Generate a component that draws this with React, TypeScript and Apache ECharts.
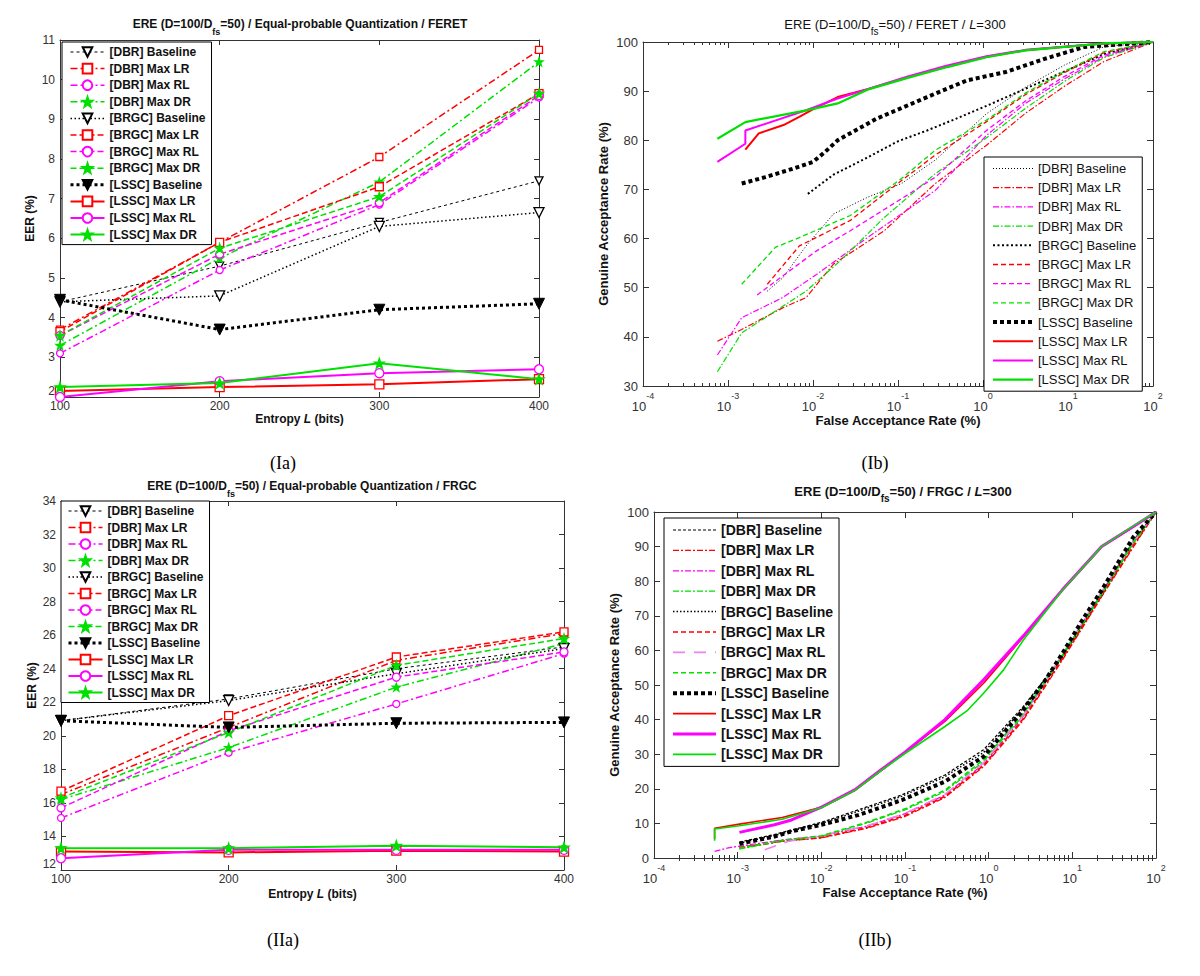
import React, { useEffect, useRef } from 'react';
import * as echarts from 'echarts';

// ---------- shared categories ----------
const ENTROPY = [100, 200, 300, 400];
const NAMES = [
  '[DBR] Baseline', '[DBR] Max LR', '[DBR] Max RL', '[DBR] Max DR',
  '[BRGC] Baseline', '[BRGC] Max LR', '[BRGC] Max RL', '[BRGC] Max DR',
  '[LSSC] Baseline', '[LSSC] Max LR', '[LSSC] Max RL', '[LSSC] Max DR',
];
const EER_Y_TICKS_IA = [2, 11, 1];
const EER_Y_TICKS_IIA = [12, 34, 2];
const ROC_Y_TICKS_IB = [30, 100, 10];
const ROC_Y_TICKS_IIB = [0, 100, 10];
const FAR_RANGE = [1e-4, 100];

// ---------- (Ia) EER, FERET ----------
const IA_DBR_BASE = [4.4, 5.3, 6.4, 7.45];
const IA_DBR_LR = [3.7, 5.9, 8.05, 10.75];
const IA_DBR_RL = [3.1, 5.2, 6.85, 9.55];
const IA_DBR_DR = [3.3, 5.5, 7.42, 10.45];
const IA_BRGC_BASE = [4.4, 4.55, 6.3, 6.65];
const IA_BRGC_LR = [3.65, 5.9, 7.3, 9.65];
const IA_BRGC_RL = [3.55, 5.6, 6.9, 9.6];
const IA_BRGC_DR = [3.55, 5.75, 7.05, 9.65];
const IA_LSSC_BASE = [4.45, 3.7, 4.2, 4.35];
const IA_LSSC_LR = [2.15, 2.25, 2.32, 2.45];
const IA_LSSC_RL = [2.0, 2.4, 2.6, 2.7];
const IA_LSSC_DR = [2.25, 2.35, 2.85, 2.45];

// ---------- (IIa) EER, FRGC ----------
const IIA_DBR_BASE = [20.9, 22.2, 24.0, 25.3];
const IIA_DBR_LR = [16.5, 20.5, 24.5, 26.1];
const IIA_DBR_RL = [15.1, 19.0, 21.9, 24.9];
const IIA_DBR_DR = [16.2, 19.3, 22.9, 25.5];
const IIA_BRGC_BASE = [20.9, 22.1, 23.7, 25.2];
const IIA_BRGC_LR = [16.7, 21.2, 24.7, 26.2];
const IIA_BRGC_RL = [15.7, 20.3, 23.5, 25.0];
const IIA_BRGC_DR = [16.3, 20.2, 24.2, 25.8];
const IIA_LSSC_BASE = [20.9, 20.5, 20.75, 20.8];
const IIA_LSSC_LR = [13.1, 13.05, 13.15, 13.1];
const IIA_LSSC_RL = [12.7, 13.2, 13.2, 13.2];
const IIA_LSSC_DR = [13.3, 13.3, 13.45, 13.35];

// ---------- (Ib) ROC, FERET, L=300  [FAR %, GAR %] ----------
const IB_DBR_BASE = [[2.9e-3, 49.3], [4.4e-3, 52], [8.3e-3, 58.5], [0.0174, 65], [0.0437, 68.4], [0.11, 71.2], [0.275, 76], [1.1, 85.4], [3.16, 90.8], [9.1, 95.3], [26.3, 99], [100, 100]];
const IB_DBR_LR = [[7.5e-4, 39.1], [1.45e-3, 41.5], [4.4e-3, 45.9], [8.3e-3, 48], [0.0174, 54.8], [0.069, 61.6], [0.275, 71.2], [1.1, 79.0], [3.16, 85.5], [9.1, 91.0], [26.3, 96.0], [100, 100]];
const IB_DBR_RL = [[7.5e-4, 36.3], [1.45e-3, 43.9], [4.4e-3, 48], [0.011, 52.7], [0.0437, 60.2], [0.275, 69.8], [1.1, 81.0], [3.16, 87.5], [9.1, 92.5], [26.3, 97], [100, 100]];
const IB_DBR_DR = [[7.5e-4, 32.9], [1.45e-3, 40.8], [2.75e-3, 43.9], [8.3e-3, 49.3], [0.021, 55.5], [0.069, 64.3], [0.275, 73.2], [1.1, 80.5], [3.16, 86.5], [9.1, 92.0], [26.3, 96.8], [100, 100]];
const IB_BRGC_BASE = [[8.7e-3, 69.1], [0.0174, 73.0], [0.0437, 76.5], [0.1, 79.8], [0.22, 82.0], [0.5, 84.5], [1.1, 87.0], [3.16, 90.5], [9.1, 94.0], [26.3, 97.5], [100, 100]];
const IB_BRGC_LR = [[2.9e-3, 50.7], [6.9e-3, 58.5], [0.01, 59.9], [0.0275, 63.7], [0.11, 71.8], [0.275, 77], [1.1, 83.8], [3.16, 89.3], [9.1, 93.8], [26.3, 97.8], [100, 100]];
const IB_BRGC_RL = [[2.2e-3, 48.5], [4.4e-3, 52.4], [0.011, 57.5], [0.0275, 61.6], [0.11, 68.1], [0.275, 72.5], [1.1, 82.0], [3.16, 88.0], [9.1, 93.0], [26.3, 97.3], [100, 100]];
const IB_BRGC_DR = [[1.45e-3, 50.7], [3.6e-3, 58.2], [6.9e-3, 60.2], [0.012, 62], [0.0275, 64.7], [0.11, 72.2], [0.275, 78], [1.1, 84.1], [3.16, 89.6], [9.1, 94.0], [26.3, 98], [100, 100]];
const IB_LSSC_BASE = [[1.45e-3, 71.2], [2.75e-3, 72.5], [5.75e-3, 74.2], [0.01, 75.6], [0.0138, 77.6], [0.0195, 80.0], [0.056, 84.4], [0.22, 88.8], [0.65, 92.2], [1.86, 93.9], [5.4, 96.6], [15.5, 99.0], [100, 100]];
const IB_LSSC_LR = [[1.6e-3, 78.1], [2.3e-3, 81.4], [4.5e-3, 83.1], [6.8e-3, 84.7], [0.0102, 86.4], [0.0195, 88.8], [0.0437, 90.4], [0.13, 92.8], [0.38, 95.0], [1.1, 97.0], [3.16, 98.3], [26.3, 99.7], [100, 100]];
const IB_LSSC_RL = [[7.5e-4, 75.6], [1.6e-3, 79.3], [1.6e-3, 82.0], [8.3e-3, 86.1], [0.0195, 88.5], [0.0437, 90.4], [0.13, 93.0], [0.38, 95.2], [1.1, 97.1], [3.16, 98.4], [26.3, 99.7], [100, 100]];
const IB_LSSC_DR = [[7.5e-4, 80.3], [1.6e-3, 83.7], [8.3e-3, 86.1], [0.0195, 87.5], [0.0437, 90.3], [0.13, 92.7], [0.38, 94.9], [1.1, 96.9], [3.16, 98.3], [26.3, 99.7], [100, 100]];

// ---------- (IIb) ROC, FRGC, L=300 ----------
const IIB_DBR_BASE = [[1.05e-3, 4.6], [2.75e-3, 6.8], [0.01, 10.3], [0.0275, 13.9], [0.091, 18.2], [0.3, 24.0], [0.87, 31.3], [2.6, 43.8], [7.6, 58.2], [22.4, 76.4], [53.7, 91.8], [100, 100]];
const IIB_DBR_LR = [[1.05e-3, 2.9], [3.6e-3, 4.9], [0.01, 5.8], [0.035, 8.6], [0.1, 12.0], [0.3, 17.5], [0.87, 26.4], [2.6, 39.9], [7.6, 57.2], [22.4, 75.5], [53.7, 89.9], [100, 100]];
const IIB_DBR_RL = [[5.3e-4, 1.9], [8e-4, 3.0], [1.05e-3, 3.4], [3.6e-3, 5.3], [0.01, 6.3], [0.035, 9.2], [0.1, 12.8], [0.3, 18.2], [0.87, 27.2], [2.6, 41.0], [7.6, 58.5], [22.4, 76.8], [53.7, 91.0], [100, 100]];
const IIB_DBR_DR = [[1.05e-3, 2.6], [3.6e-3, 5.0], [0.01, 6.2], [0.035, 10.1], [0.1, 13.9], [0.3, 19.2], [0.87, 27.9], [2.6, 41.3], [7.6, 58.2], [22.4, 76.0], [53.7, 90.9], [100, 100]];
const IIB_BRGC_BASE = [[1.05e-3, 4.3], [2.75e-3, 6.5], [0.01, 10.0], [0.0275, 13.5], [0.091, 17.8], [0.3, 23.5], [0.87, 30.5], [2.6, 43.3], [7.6, 58.0], [22.4, 76.0], [53.7, 91.5], [100, 100]];
const IIB_BRGC_LR = [[1.05e-3, 3.0], [3.6e-3, 5.0], [0.01, 5.9], [0.035, 8.8], [0.1, 12.3], [0.3, 17.8], [0.87, 26.8], [2.6, 40.3], [7.6, 57.6], [22.4, 75.8], [53.7, 90.3], [100, 100]];
const IIB_BRGC_RL = [[2.1e-3, 2.4], [4e-3, 4.8], [0.01, 6.5], [0.035, 9.3], [0.1, 12.9], [0.3, 18.4], [0.87, 27.5], [2.6, 41.3], [7.6, 58.8], [22.4, 77.0], [53.7, 91.3], [100, 100]];
const IIB_BRGC_DR = [[1.05e-3, 2.8], [3.6e-3, 5.2], [0.01, 6.4], [0.035, 10.3], [0.1, 14.2], [0.3, 19.6], [0.87, 28.4], [2.6, 41.8], [7.6, 58.6], [22.4, 76.3], [53.7, 91.2], [100, 100]];
const IIB_LSSC_BASE = [[1.05e-3, 4.1], [2.75e-3, 6.2], [4.4e-3, 7.7], [0.01, 9.6], [0.0275, 12.4], [0.091, 16.7], [0.3, 22.1], [0.87, 29.3], [2.6, 42.8], [4.5, 50.5], [7.6, 59.1], [13.2, 68.8], [22.4, 77.4], [53.7, 92.8], [100, 100]];
const IIB_LSSC_LR = [[5.3e-4, 5.5], [5.3e-4, 8.6], [1.05e-3, 9.8], [3.4e-3, 11.7], [0.0102, 14.7], [0.025, 19.5], [0.05, 25.0], [0.1, 30.5], [0.3, 39.5], [0.87, 50.5], [2.6, 63.9], [7.6, 77.4], [22.4, 89.9], [53.7, 95.7], [100, 100]];
const IIB_LSSC_RL = [[1.05e-3, 7.4], [2.75e-3, 9.6], [4.4e-3, 11.0], [0.0102, 14.8], [0.025, 19.7], [0.05, 25.2], [0.1, 30.6], [0.3, 40.0], [0.87, 51.5], [2.6, 64.2], [7.6, 77.5], [22.4, 90.0], [53.7, 95.8], [100, 100]];
const IIB_LSSC_DR = [[5.3e-4, 5.0], [5.3e-4, 8.4], [1.05e-3, 9.3], [3.4e-3, 11.2], [0.0102, 14.6], [0.025, 19.5], [0.05, 25.0], [0.1, 30.2], [0.3, 38.0], [0.55, 42.5], [0.87, 47.6], [1.5, 54.3], [2.6, 63.0], [7.6, 77.4], [22.4, 90.0], [53.7, 96.0], [100, 100]];

// ---------- styles ----------
const FONT = '"Liberation Sans", Arial, Helvetica, sans-serif';
const AX = '#333333';
const RED = '#ff0000';
const MAG = '#ff00ff';
const GRN = '#00e000';
const BLK = '#000000';
const VIO = '#ee82ee';
const TRI = 'path://M0,0 L10,0 L5,9 Z';
const STAR = 'path://M5,0 L6.2,3.6 L10,3.6 L7,5.9 L8.1,9.5 L5,7.3 L1.9,9.5 L3,5.9 L0,3.6 L3.8,3.6 Z';
const DASHDOT: any = [7, 3, 2, 3];

const EER_STYLES = [
  { color: BLK, width: 1, dash: [3, 3], symbol: TRI, size: 8, fill: '#fff' },
  { color: RED, width: 1.5, dash: DASHDOT, symbol: 'rect', size: 7, fill: '#fff' },
  { color: MAG, width: 1.5, dash: DASHDOT, symbol: 'circle', size: 7, fill: '#fff' },
  { color: GRN, width: 1.5, dash: DASHDOT, symbol: STAR, size: 8, fill: GRN },
  { color: BLK, width: 1.5, dash: [1.5, 2.5], symbol: TRI, size: 10, fill: '#fff' },
  { color: RED, width: 1.5, dash: [6, 3], symbol: 'rect', size: 8, fill: '#fff' },
  { color: MAG, width: 1.5, dash: [6, 3], symbol: 'circle', size: 8, fill: '#fff' },
  { color: GRN, width: 1.5, dash: [6, 3], symbol: STAR, size: 9, fill: GRN },
  { color: BLK, width: 3, dash: [3, 3], symbol: TRI, size: 11, fill: BLK },
  { color: RED, width: 2, dash: 'solid', symbol: 'rect', size: 9, fill: '#fff' },
  { color: MAG, width: 2, dash: 'solid', symbol: 'circle', size: 9, fill: '#fff' },
  { color: GRN, width: 2, dash: 'solid', symbol: STAR, size: 10, fill: GRN },
];
const IB_STYLES = [
  { color: BLK, width: 1, dash: [1, 2] },
  { color: RED, width: 1.2, dash: [6, 2, 1.5, 2] },
  { color: MAG, width: 1.2, dash: [6, 2, 1.5, 2] },
  { color: GRN, width: 1.2, dash: [6, 2, 1.5, 2] },
  { color: BLK, width: 2, dash: [2, 2.5] },
  { color: RED, width: 1.3, dash: [5, 3] },
  { color: MAG, width: 1.3, dash: [5, 3] },
  { color: GRN, width: 1.3, dash: [5, 3] },
  { color: BLK, width: 4, dash: [4, 3] },
  { color: RED, width: 2, dash: 'solid' },
  { color: MAG, width: 2, dash: 'solid' },
  { color: GRN, width: 2.2, dash: 'solid' },
];
const IIB_STYLES = [
  { color: BLK, width: 1.2, dash: [3, 2] },
  { color: RED, width: 1.3, dash: [6, 2, 2, 2] },
  { color: MAG, width: 1.3, dash: [6, 2, 2, 2] },
  { color: GRN, width: 1.3, dash: [6, 2, 2, 2] },
  { color: BLK, width: 1.5, dash: [1.5, 2] },
  { color: RED, width: 1.6, dash: [5, 3] },
  { color: VIO, width: 1.6, dash: [12, 9] },
  { color: GRN, width: 1.6, dash: [5, 3] },
  { color: BLK, width: 4, dash: [4, 3] },
  { color: RED, width: 1.6, dash: 'solid' },
  { color: MAG, width: 3, dash: 'solid' },
  { color: GRN, width: 1.6, dash: 'solid' },
];

const IA_DATA = [IA_DBR_BASE, IA_DBR_LR, IA_DBR_RL, IA_DBR_DR, IA_BRGC_BASE, IA_BRGC_LR, IA_BRGC_RL, IA_BRGC_DR, IA_LSSC_BASE, IA_LSSC_LR, IA_LSSC_RL, IA_LSSC_DR];
const IIA_DATA = [IIA_DBR_BASE, IIA_DBR_LR, IIA_DBR_RL, IIA_DBR_DR, IIA_BRGC_BASE, IIA_BRGC_LR, IIA_BRGC_RL, IIA_BRGC_DR, IIA_LSSC_BASE, IIA_LSSC_LR, IIA_LSSC_RL, IIA_LSSC_DR];
const IB_DATA = [IB_DBR_BASE, IB_DBR_LR, IB_DBR_RL, IB_DBR_DR, IB_BRGC_BASE, IB_BRGC_LR, IB_BRGC_RL, IB_BRGC_DR, IB_LSSC_BASE, IB_LSSC_LR, IB_LSSC_RL, IB_LSSC_DR];
const IIB_DATA = [IIB_DBR_BASE, IIB_DBR_LR, IIB_DBR_RL, IIB_DBR_DR, IIB_BRGC_BASE, IIB_BRGC_LR, IIB_BRGC_RL, IIB_BRGC_DR, IIB_LSSC_BASE, IIB_LSSC_LR, IIB_LSSC_RL, IIB_LSSC_DR];

// minor tick positions (log10 space) for the overlay axis
const MINOR_LOG: number[] = [];
for (let d = -4; d < 2; d++) for (let k = 2; k <= 9; k++) MINOR_LOG.push(d + Math.log10(k));

const tick = (len = 5) => ({ show: true, inside: true, length: len, lineStyle: { color: AX, width: 1 } });
const line = { show: true, onZero: false, lineStyle: { color: AX, width: 1 } };
const labelStyle = (fs: number) => ({ color: '#333', fontSize: fs, fontFamily: FONT });
const nameStyle = (fs: number, weight = 'bold') => ({
  color: '#111', fontSize: fs, fontFamily: FONT, fontWeight: weight,
  rich: { i: { color: '#111', fontSize: fs, fontFamily: FONT, fontWeight: weight, fontStyle: 'italic' } },
});

function titleRich(fs: number, weight: string) {
  return {
    a: { fontSize: fs, fontFamily: FONT, fontWeight: weight, fill: '#111', lineHeight: 18, verticalAlign: 'top' },
    i: { fontSize: fs, fontFamily: FONT, fontWeight: weight, fontStyle: 'italic', fill: '#111', lineHeight: 18, verticalAlign: 'top' },
    s: { fontSize: fs - 3, fontFamily: FONT, fontWeight: weight, fill: '#111', lineHeight: 10, verticalAlign: 'bottom' },
  };
}

function graphicTexts(title: any, caption: any) {
  return [
    {
      type: 'text', x: title.x, y: title.y,
      style: { text: title.text, rich: titleRich(title.fs, title.weight), align: 'center', verticalAlign: 'middle', fill: '#111' },
    },
    {
      type: 'text', x: caption.x, y: caption.y,
      style: { text: caption.text, font: '18px "Liberation Serif", "Times New Roman", serif', fill: '#000', align: 'center', verticalAlign: 'middle' },
    },
  ];
}

function legendOpt(cfg: any, hideSymbol: boolean) {
  return {
    orient: 'vertical', left: cfg.left, top: cfg.top, padding: cfg.padding,
    itemGap: cfg.gap, itemWidth: cfg.itemWidth, itemHeight: cfg.itemHeight,
    backgroundColor: '#fff', borderColor: '#000', borderWidth: 1, borderRadius: 0,
    selectedMode: false,
    lineStyle: { width: 'inherit' },
    itemStyle: hideSymbol ? { opacity: 0 } : {},
    textStyle: { color: '#111', fontSize: cfg.fs, fontFamily: FONT, fontWeight: cfg.weight },
    data: NAMES,
  };
}

function eerOption(cfg: any) {
  const [yMin, yMax, yInt] = cfg.yTicks;
  const xBase = { type: 'value', min: 100, max: 400, interval: 100, axisLine: line, splitLine: { show: false } };
  const yBase = { type: 'value', min: yMin, max: yMax, interval: yInt, axisLine: line, splitLine: { show: false } };
  return {
    animation: false,
    grid: { ...cfg.grid, containLabel: false },
    xAxis: [
      { ...xBase, position: 'bottom', axisTick: tick(5), axisLabel: { ...labelStyle(12), margin: 3 },
        name: 'Entropy {i|L} (bits)', nameLocation: 'middle', nameGap: cfg.xNameGap, nameTextStyle: nameStyle(12) },
      { ...xBase, position: 'top', axisTick: tick(5), axisLabel: { show: false } },
    ],
    yAxis: [
      { ...yBase, position: 'left', axisTick: tick(5),
        axisLabel: { ...labelStyle(12), margin: 5, verticalAlignMinLabel: 'bottom' },
        name: 'EER (%)', nameLocation: 'middle', nameGap: cfg.yNameGap, nameTextStyle: nameStyle(12) },
      { ...yBase, position: 'right', axisTick: tick(5), axisLabel: { show: false } },
    ],
    legend: legendOpt(cfg.legend, false),
    graphic: graphicTexts(cfg.title, cfg.caption),
    series: cfg.data.map((ys: number[], i: number) => {
      const st = EER_STYLES[i];
      return {
        name: NAMES[i], type: 'line', xAxisIndex: 0, yAxisIndex: 0,
        data: ENTROPY.map((x, j) => [x, ys[j]]),
        symbol: st.symbol, symbolSize: st.size, showSymbol: true,
        lineStyle: { color: st.color, width: st.width, type: st.dash },
        itemStyle: { color: st.fill, borderColor: st.color, borderWidth: st.color === BLK && st.fill === BLK ? 1 : 1.3 },
        emphasis: { disabled: true }, silent: true,
      };
    }),
  };
}

function rocOption(cfg: any) {
  const [yMin, yMax, yInt] = cfg.yTicks;
  const xBase = { type: 'log', logBase: 10, min: FAR_RANGE[0], max: FAR_RANGE[1], interval: 1, axisLine: line, splitLine: { show: false } };
  const yBase = { type: 'value', min: yMin, max: yMax, interval: yInt, axisLine: line, splitLine: { show: false } };
  const minorBase = {
    type: 'value', min: -4, max: 2, axisLine: { show: false }, axisLabel: { show: false }, splitLine: { show: false },
    axisTick: { show: true, inside: true, length: 3, customValues: MINOR_LOG, lineStyle: { color: AX, width: 1 } },
  };
  return {
    animation: false,
    grid: { ...cfg.grid, containLabel: false },
    xAxis: [
      { ...xBase, position: 'bottom', axisTick: tick(6),
        axisLabel: {
          margin: 5,
          formatter: (v: number) => '{b|10}{s|' + Math.round(Math.log10(v)) + '}',
          rich: {
            b: { ...labelStyle(cfg.tickFs), lineHeight: 22, verticalAlign: 'bottom' },
            s: { ...labelStyle(cfg.tickFs - 4), lineHeight: 10, verticalAlign: 'top' },
          },
        },
        name: 'False Acceptance Rate (%)', nameLocation: 'middle', nameGap: cfg.xNameGap, nameTextStyle: nameStyle(13) },
      { ...xBase, position: 'top', axisTick: tick(6), axisLabel: { show: false } },
      { ...minorBase, position: 'bottom' },
      { ...minorBase, position: 'top' },
    ],
    yAxis: [
      { ...yBase, position: 'left', axisTick: tick(6),
        axisLabel: { ...labelStyle(cfg.tickFs), margin: 5 },
        name: 'Genuine Acceptance Rate (%)', nameLocation: 'middle', nameGap: cfg.yNameGap, nameTextStyle: nameStyle(13) },
      { ...yBase, position: 'right', axisTick: tick(6), axisLabel: { show: false } },
    ],
    legend: legendOpt(cfg.legend, true),
    graphic: graphicTexts(cfg.title, cfg.caption),
    series: cfg.data.map((pts: number[][], i: number) => {
      const st = cfg.styles[i];
      return {
        name: NAMES[i], type: 'line', xAxisIndex: 0, yAxisIndex: 0,
        data: pts, symbol: 'none', showSymbol: false,
        lineStyle: { color: st.color, width: st.width, type: st.dash },
        itemStyle: { color: st.color },
        emphasis: { disabled: true }, silent: true,
      };
    }),
  };
}

const OPT_IA = eerOption({
  yTicks: EER_Y_TICKS_IA, data: IA_DATA,
  grid: { left: 60, top: 40, width: 479, height: 357 },
  xNameGap: 13, yNameGap: 24,
  legend: { left: 62, top: 42, padding: [4, 6, 4, 7], gap: 4.6, itemWidth: 34, itemHeight: 12, fs: 12, weight: 'bold' },
  title: { x: 300, y: 27, fs: 12, weight: 'bold', text: '{a|ERE (D=100/D}{s|fs}{a|=50) / Equal-probable Quantization / FERET}' },
  caption: { x: 283, y: 463, text: '(Ia)' },
});
const OPT_IIA = eerOption({
  yTicks: EER_Y_TICKS_IIA, data: IIA_DATA,
  grid: { left: 61, top: 501, width: 503, height: 369 },
  xNameGap: 18, yNameGap: 23,
  legend: { left: 61, top: 501, padding: [4, 6, 4, 6], gap: 4.5, itemWidth: 34, itemHeight: 12, fs: 12, weight: 'bold' },
  title: { x: 312, y: 489, fs: 12, weight: 'bold', text: '{a|ERE (D=100/D}{s|fs}{a|=50) / Equal-probable Quantization / FRGC}' },
  caption: { x: 283, y: 940, text: '(IIa)' },
});
const OPT_IB = rocOption({
  yTicks: ROC_Y_TICKS_IB, data: IB_DATA, styles: IB_STYLES, tickFs: 13,
  grid: { left: 643, top: 42, width: 510, height: 344 },
  xNameGap: 25, yNameGap: 33,
  legend: { left: 984, top: 157, padding: [5, 6, 5, 7], gap: 6.2, itemWidth: 40, itemHeight: 12, fs: 13, weight: 'normal' },
  title: { x: 895, y: 27, fs: 13, weight: 'normal', text: '{a|ERE (D=100/D}{s|fs}{a|=50) / FERET / }{i|L}{a|=300}' },
  caption: { x: 875, y: 463, text: '(Ib)' },
});
const OPT_IIB = rocOption({
  yTicks: ROC_Y_TICKS_IIB, data: IIB_DATA, styles: IIB_STYLES, tickFs: 13,
  grid: { left: 654, top: 512, width: 502, height: 346 },
  xNameGap: 28, yNameGap: 33,
  legend: { left: 664, top: 518, padding: [5, 6, 5, 7], gap: 6.4, itemWidth: 43, itemHeight: 14, fs: 14, weight: 'bold' },
  title: { x: 903, y: 494, fs: 13, weight: 'bold', text: '{a|ERE (D=100/D}{s|fs}{a|=50) / FRGC / }{i|L}{a|=300}' },
  caption: { x: 875, y: 940, text: '(IIb)' },
});

function Chart({ option }: { option: any }) {
  const ref = useRef<HTMLDivElement>(null);
  useEffect(() => {
    const chart = echarts.init(ref.current as HTMLDivElement, null, { renderer: 'svg' });
    chart.setOption(option);
    return () => chart.dispose();
  }, [option]);
  return <div ref={ref} style={{ position: 'absolute', left: 0, top: 0, width: 1200, height: 976 }} />;
}

export default function App() {
  return (
    <div style={{ position: 'absolute', left: 0, top: 0, width: 1200, height: 976, background: '#fff', overflow: 'hidden' }}>
      <Chart option={OPT_IA} />
      <Chart option={OPT_IB} />
      <Chart option={OPT_IIA} />
      <Chart option={OPT_IIB} />
    </div>
  );
}
